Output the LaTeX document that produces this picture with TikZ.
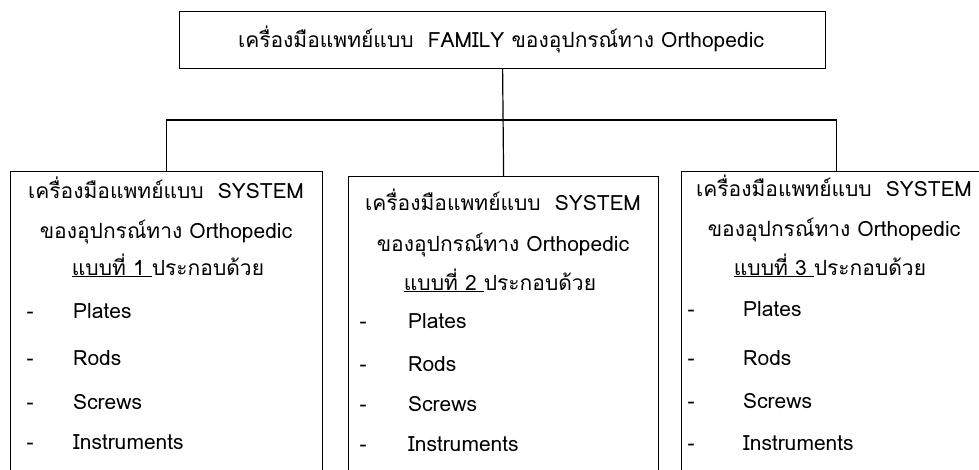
\documentclass[tikz,border=0pt]{standalone}
\usepackage{fontspec}
\setmainfont{Loma}[Script=Thai]
\tikzset{
  boxx/.style={draw, line width=1.2pt, rectangle, inner sep=0pt},
  conn/.style={line width=1.2pt},
  txt/.style={anchor=base, inner sep=0pt, font=\fontsize{21}{24}\selectfont},
  ltxt/.style={anchor=base west, inner sep=0pt, font=\fontsize{21}{24}\selectfont},
}
\begin{document}
\begin{tikzpicture}[x=1pt,y=-1pt]
\useasboundingbox (0,0) rectangle (979,469);
\clip (0,0) rectangle (979,469);
% title
\node[boxx, minimum width=646, minimum height=57, anchor=north west] (top) at (179,11) {};
\node[txt] (tt) at (501,47) {เครื่องมือแพทย์แบบ\ \ FAMILY ของอุปกรณ์ทาง Orthopedic};
% boxes
\node[boxx, minimum width=312, minimum height=400, anchor=north west] (b1) at (10,171) {};
\node[boxx, minimum width=310, minimum height=400, anchor=north west] (b2) at (348,176) {};
\node[boxx, minimum width=310, minimum height=400, anchor=north west] (b3) at (681,171) {};
\coordinate (j) at (502,120);
\draw[conn] (top.south) -- (b2.north);
\draw[conn] (b1.north) |- (j) -| (b3.north);
% box 1
\node[txt] (a1) at (166,198) {เครื่องมือแพทย์แบบ\ \ SYSTEM};
\node[txt] (a2) at (166,238) {ของอุปกรณ์ทาง Orthopedic};
\node[txt] (a3) at (168,275) {\underline{แบบที่ 1 }ประกอบด้วย};
\node[txt] (a4) at (30,318) {-};
\node[ltxt] (a5) at (73,318) {Plates};
\node[txt] (a6) at (30,365) {-};
\node[ltxt] (a7) at (73,365) {Rods};
\node[txt] (a8) at (30,409) {-};
\node[ltxt] (a9) at (73,409) {Screws};
\node[txt] (a10) at (30,449) {-};
\node[ltxt] (a11) at (73,449) {Instruments};
% box 2
\node[txt] (c1) at (503,210) {เครื่องมือแพทย์แบบ\ \ SYSTEM};
\node[txt] (c2) at (503,251) {ของอุปกรณ์ทาง Orthopedic};
\node[txt] (c3) at (500,290) {\underline{แบบที่ 2 }ประกอบด้วย};
\node[txt] (c4) at (363,328) {-};
\node[ltxt] (c5) at (408,328) {Plates};
\node[txt] (c6) at (363,371) {-};
\node[ltxt] (c7) at (408,371) {Rods};
\node[txt] (c8) at (363,411) {-};
\node[ltxt] (c9) at (408,411) {Screws};
\node[txt] (c10) at (363,451) {-};
\node[ltxt] (c11) at (408,451) {Instruments};
% box 3
\node[txt] (d1) at (834,196) {เครื่องมือแพทย์แบบ\ \ SYSTEM};
\node[txt] (d2) at (834,236) {ของอุปกรณ์ทาง Orthopedic};
\node[txt] (d3) at (830,275) {\underline{แบบที่ 3 }ประกอบด้วย};
\node[txt] (d4) at (691,316) {-};
\node[ltxt] (d5) at (743,316) {Plates};
\node[txt] (d6) at (691,365) {-};
\node[ltxt] (d7) at (743,365) {Rods};
\node[txt] (d8) at (691,408) {-};
\node[ltxt] (d9) at (743,408) {Screws};
\node[txt] (d10) at (691,450) {-};
\node[ltxt] (d11) at (743,450) {Instruments};
\end{tikzpicture}
\end{document}
